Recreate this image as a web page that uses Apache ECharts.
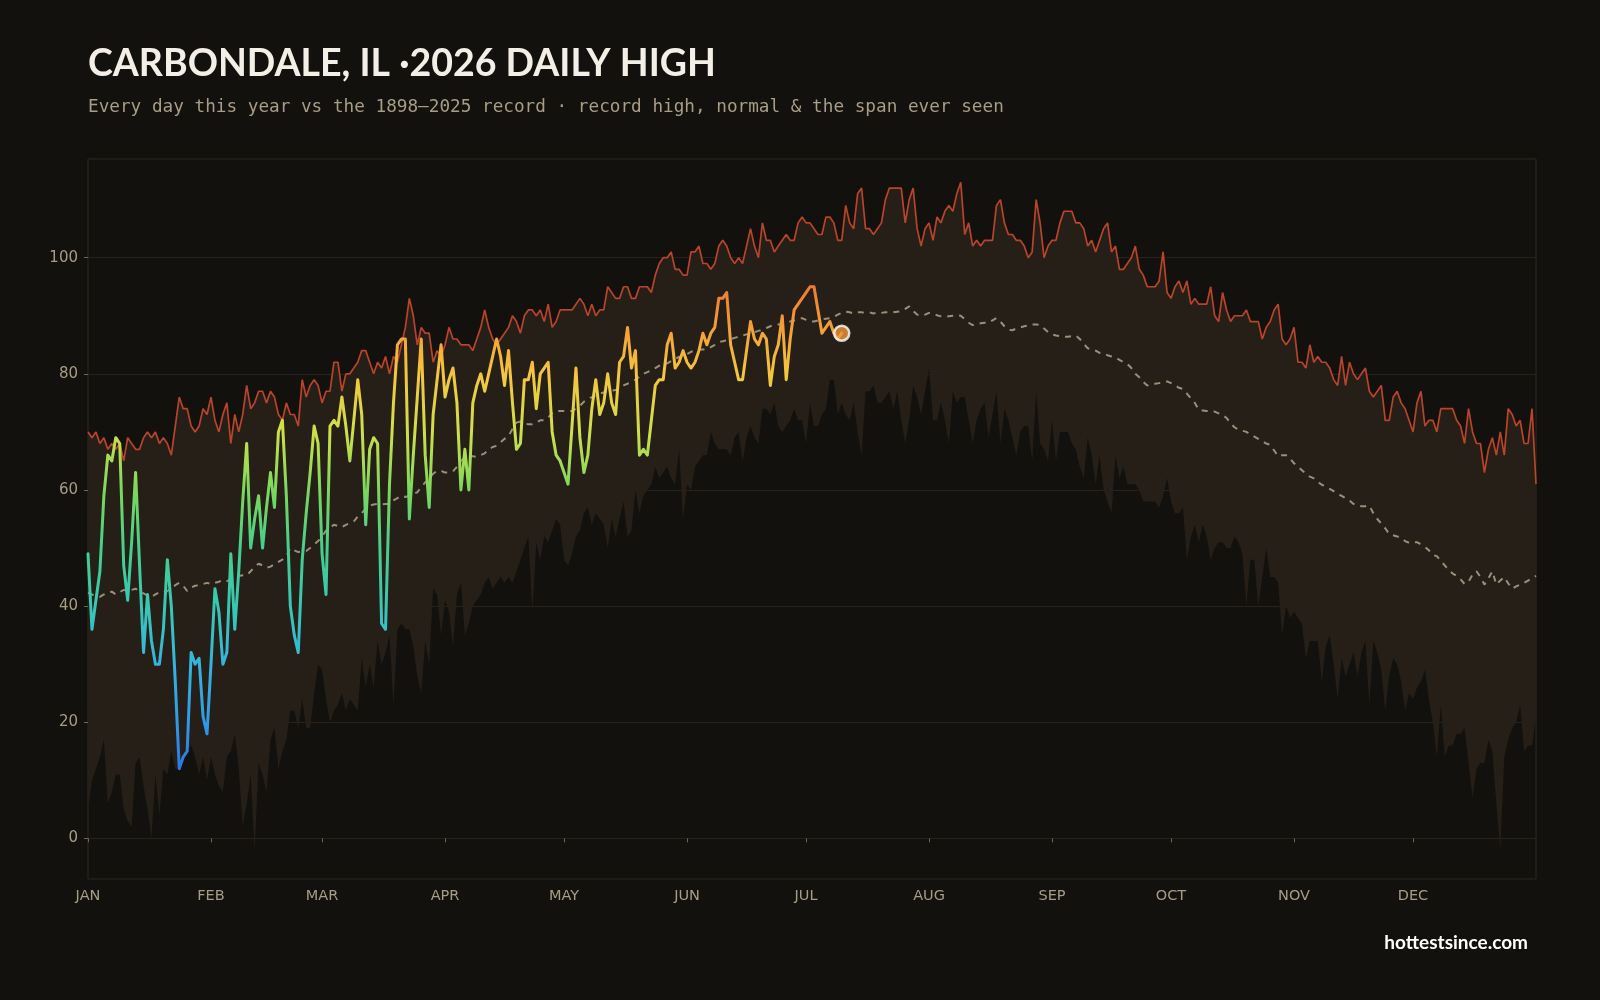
<!DOCTYPE html>
<html><head><meta charset="utf-8">
<script src="https://cdn.jsdelivr.net/npm/echarts@6/dist/echarts.min.js"></script>
<style>html,body{margin:0;padding:0;background:#13110d;}#c{width:1600px;height:1000px;}</style>
</head><body><div id="c"></div>
<script>
const monthStarts = [0,31,59,90,120,151,181,212,243,273,304,334];
const monthLabels = ['JAN','FEB','MAR','APR','MAY','JUN','JUL','AUG','SEP','OCT','NOV','DEC'];
const yTicks = [0,20,40,60,80,100];

const recordHigh = [
70,69,70,68,69,67,68,67,68,65, 69,68,67,67,69,70,69,70,68,69,
68,66,71,76,74,74,71,70,71,74, 73,76,72,70,73,75,68,73,70,73,
78,74,75,77,77,75,77,76,73,72, 75,73,73,71,79,76,78,79,78,75,
77,77,82,82,77,
80,80,81,82,84,84,82,80,82,81,83,80,83,82,85,88,93,90,85,88,87,87,
82,84,83,85,88,86,86,85,85,85, 84,86,88,91,88,86,85,86,87,88,
90,89,87,90,91,91,90,91,89,92, 88,89,91,91,91,91,92,93,92,90,
92,90,91,91,95,94,93,93,95,95, 93,93,95,95,95,94,97,99,100,100,
101,98,98,97,97,101,101,102,99,99, 98,99,102,103,102,100,99,100,99,102,
105,102,100,106,103,103,101,102,103,104, 103,103,106,107,106,106,105,104,104,107,
107,106,103,103,109,106,105,111,112,105, 105,104,105,106,110,112,112,112,
112,106,110,112,105,102,105,106,103,107, 106,108,109,108,111,113,104,106,102,103,
102,103,103,103,109,110,106,104,104,103, 103,102,100,101,110,106,100,102,103,103,
106,108,108,108,106,106,105,102,103,101, 103,105,106,101,102,98,98,99,100,102,
98,97,95,95,95,96,101,94,93,95, 96,94,96,92,93,92,92,92,95,90,
89,94,91,89,90,90,90,91,89,89, 89,86,88,89,91,92,86,85,86,88,
82,82,81,85,82,83,82,82,81,79, 78,83,78,82,80,79,80,81,77,76,
77,78,72,72,76,77,75,74,72,70, 75,77,71,72,72,70,74,74,74,74,
72,71,68,74,70,68,68,63,67,69, 66,70,66,74,73,71,72,68,68,74,
61
];

const normal = [
42.3,42,41.8,41.6,42,42.2,42.5,42,42.4,42.8, 42.6,42.8,43,42.5,42.2,41.8,41.6,42,42.4,42.3,
42.6,43,43.6,44,43.5,42.6,43.2,43.5,43.6,43.8, 44,43.8,44,44.2,44.5,44.3,44.6,45,45.2,45.3,
45.3,46,46.8,47.3,47,46.6,46.8,47.2,47.6,48, 48.6,50,49.6,49.3,49.4,49.5,50,50.6,51.2,52,
53,53.5,54,53.8,53.6,54,54.3,54.6,55.4,56, 56.8,57.3,57.5,57.6,57.5,57.6,57.6,58.2,58.6,59,
58.8,59,59.3,59.6,60.5,61.3,62,62.8,63.3,63.3, 63,63,63.2,64,65,65.6,66,65.8,65.7,66,
66.3,67,67.4,67.6,68.2,68.8,69.3,70.5,71.6,71.8, 71.5,71.3,71.3,71.6,72,72,72.5,73.2,73.6,73.6,
73.6,73.6,73.6,74,74.5,75.2,75.6,76,76.3,76.6, 76.8,77,77.1,77.2,77.6,78,78.3,78.6,79,79.5,
80,80.3,80.6,81,81.4,81.6,81.8,82.2,82.6,82.9, 83,83.4,83.8,84,84.2,84.2,84.2,84.6,85,85.5,
85.6,85.8,86,86.2,86.4,86.6,86.8,87,87.2,87.4, 87.6,87.9,88.2,88.4,88.5,88.6,88.8,89,89.2,89.4,
89.6,89.3,89,89,89.2,89.4,89.5,89.6,89.8,90.2, 90.5,90.7,90.6,90.4,90.6,90.6,90.5,90.6,90.4,90.6,
90.5,90.6,90.6,90.6,90.7,90.8,91.2,91.6,90.8,90.2, 90,90.2,90.5,90.4,90.1,89.9,89.8,89.9,90,90.1,
90,89.4,88.8,88.4,88.6,88.7,88.8,88.8,89.2,89.6, 89,88.2,87.6,87.5,87.8,88,88.2,88.3,88.5,88.5,
88.4,87.8,87.2,86.8,86.6,86.5,86.4,86.4,86.5,86.6, 86,85.2,84.4,84.2,84,83.6,83.5,83.2,83,82.8,
82.4,82,81.7,81,80,79.4,78.6,78,78.2,78.3, 78.4,78.5,78.7,78.4,78,77.6,77.4,76.6,75.8,75,
73.8,73.7,73.6,73.6,73.5,73.2,72.9,72.4,71.5,70.8, 70.4,70.2,70,69.6,69.2,68.8,68.4,68,67.8,66.8,
65.8,66,66,65.4,64.6,64,63.4,62.8,62.3,62, 61.4,60.9,60.6,60.2,59.8,59.3,59,58.6,58.2,57.6,
57.3,57.2,57.2,57.3,56,55,54.2,53.4,52.4,52.2, 52,51.8,51.2,50.9,51,51,50.6,50.2,49.6,48.8,
48.6,47.8,47,46.2,45.6,45.2,44.6,43.8,44.2,45.4, 46,45,43.7,44.8,46,43.7,44.4,45,43.9,43,
43.4,43.7,44,44.4,44.8,45.2
];

const recordLow = [
5,10,12,14,17,6,8,11,11,5, 3,2,13,14,9,5,0,11,4,12,
11,15,12,12,14,15,16,14,11,14, 10,14,11,9,8,14,15,18,12,2,
6,11,-2,13,11,8,17,19,12,15, 17,22,22,19,24,19,19,25,30,29,
24,20,22,23,25,22,24,23,22,31, 26,30,26,34,30,32,35,23,36,37,
36,36,33,28,25,34,30,43,42,35, 41,39,33,42,44,35,37,40,41,42,
44,45,43,44,
45,44,45,44,46,48,50,52,39,51, 48,52,51,53,55,54,48,47,49,52,
53,56,57,54,56,55,54,50,55,52, 55,58,52,53,60,56,59,60,61,64,
62,63,64,62,61,67,55,61,60,64, 65,66,66,70,68,67,67,67,66,69,
70,65,69,71,69,68,74,74,73,75, 71,70,71,72,74,72,72,68,75,71,
71,73,74,79,79,73,75,73,
72,75,70,66,77,77,78,75,75,76, 77,74,77,72,68,72,78,76,73,77,
81,72,72,75,72,68,77,75,76,76, 72,68,72,74,75,69,73,77,68,74,
72,69,66,70,71,71,65,77,68,67, 65,72,65,70,70,70,68,67,64,62,
69,66,61,66,60,58,56,66,62,64, 61,61,61,60,58,58,58,58,57,59,
62,58,56,56,57,48,52,54,51,54, 52,48,
50,51,51,50,50,52,51,49,40,48, 48,40,45,50,45,45,44,35,40,38,
39,38,37,31,34,34,34,27,33,35, 30,24,31,28,30,32,28,32,34,23,
34,32,29,22,28,31,30,27,22,25, 24,26,27,29,24,20,14,23,14,16,
16,18,18,19,13,7,12,13,13,17, 15,6,-2,14,17,19,20,23,15,16,
16,21
];

const thisYear = [
49,36,41,46,59,66,65,69,68,47, 41,51,63,47,32,42,34,30,30,36,
48,40,27,12,14,15,32,30,31,21, 18,30,43,39,30,32,49,36,46,58,
68,50,55,59,50,57,63,57,70,72, 59,40,35,32,48,56,63,71,68,49,
42,71,72,71,76,71,65,72,79,73, 54,67,69,68,37,36,61,75,85,86,
86,55,66,76,86,66,57,73,79,85, 76,79,81,75,60,67,60,75,78,80,
77,80,83,86,83,78,84,75,67,68, 79,79,82,74,80,81,82,70,66,65,
63,61,71,81,69,63,66,74,79,73, 75,80,75,73,82,83,88,81,84,66,
67,66,72,78,79,79,85,87,81,82, 84,82,81,82,84,87,85,87,88,93,
93,94,85,82,79,79,84,89,86,85, 87,86,78,83,85,90,79,86,91,92,
93,94,95,95,91,87,88,89,87,86, 87
];

const dayIndex = recordHigh.map((_, i) => i);
const spanData = recordHigh.map((h, i) => h - recordLow[i]);
const lastIdx = thisYear.length - 1;
const isMonthStart = (idx) => monthStarts.indexOf(idx) >= 0;

const chart = echarts.init(document.getElementById('c'), null, {renderer: 'canvas'});
const labelColor = '#a79c86';
chart.setOption({
  backgroundColor: '#13110d',
  animation: false,
  title: [
    {text: 'CARBONDALE, IL ·2026 DAILY HIGH', left: 88, top: 45, padding: 0,
     textStyle: {color: '#f4efe6', fontSize: 37.5, fontWeight: 'bold', fontFamily: 'Lato'}},
    {text: 'Every day this year vs the 1898\u20132025 record \u00b7 record high, normal & the span ever seen', left: 88, top: 98, padding: 0,
     textStyle: {color: '#a89d86', fontSize: 17.7, fontWeight: 'normal', fontFamily: 'DejaVu Sans Mono'}},
    {text: 'hottestsince.com', right: 72, top: 933, padding: 0,
     textStyle: {color: '#ffffff', fontSize: 19, fontWeight: 'bold', fontFamily: 'Lato'}}
  ],
  grid: {left: 88, right: 64, top: 159, bottom: 121, show: true, borderColor: '#2c261f', borderWidth: 1, backgroundColor: 'transparent'},
  xAxis: {
    type: 'category', data: dayIndex, boundaryGap: false,
    axisLine: {show: false},
    axisTick: {show: true, length: 4, interval: (i) => isMonthStart(i), lineStyle: {color: '#6f6556'}},
    axisLabel: {color: labelColor, fontSize: 14.5, fontFamily: 'DejaVu Sans', margin: 10,
      interval: (i) => isMonthStart(i),
      formatter: (v, i) => monthLabels[monthStarts.indexOf(Number(v))] || ''},
    splitLine: {show: false}
  },
  yAxis: {
    type: 'value', min: -7, max: 117,
    axisLine: {show: false},
    axisTick: {show: true, length: 4, lineStyle: {color: '#6f6556'}, customValues: yTicks},
    axisLabel: {color: labelColor, fontSize: 15, fontFamily: 'DejaVu Sans', margin: 10, customValues: yTicks},
    splitLine: {show: true, lineStyle: {color: '#29211b', width: 1}}
  },
  visualMap: {
    show: false, type: 'continuous', seriesIndex: 4, dimension: 1, min: 10, max: 100,
    inRange: {color: ['#2a6fe0','#2f9ae8','#35b5de','#37c8b5','#45cf8c','#7bd85c','#cfe048','#f5c63e','#f29535','#ea6229']}
  },
  series: [
    {name: 'low', type: 'line', data: recordLow, stack: 'band', stackStrategy: 'all',
     symbol: 'none', lineStyle: {width: 0, opacity: 0}, silent: true, z: 1},
    {name: 'span', type: 'line', data: spanData, stack: 'band', stackStrategy: 'all',
     symbol: 'none', lineStyle: {width: 0, opacity: 0}, areaStyle: {color: '#261f17', opacity: 1}, silent: true, z: 1},
    {name: 'record high', type: 'line', data: recordHigh, symbol: 'none',
     lineStyle: {color: '#b8442a', width: 1.7}, z: 3},
    {name: 'normal', type: 'line', data: normal, symbol: 'none',
     lineStyle: {color: '#9a8f7a', width: 2, type: [6, 6]}, z: 3},
    {name: '2026', type: 'line', data: thisYear, symbol: 'none',
     lineStyle: {width: 3, cap: 'round', join: 'round'}, z: 5},
    {name: 'today', type: 'scatter', data: [[lastIdx, thisYear[lastIdx]]], symbolSize: 15,
     itemStyle: {color: '#f0953a', borderColor: '#ffffff', borderWidth: 2.5}, z: 6}
  ]
});
</script></body></html>
